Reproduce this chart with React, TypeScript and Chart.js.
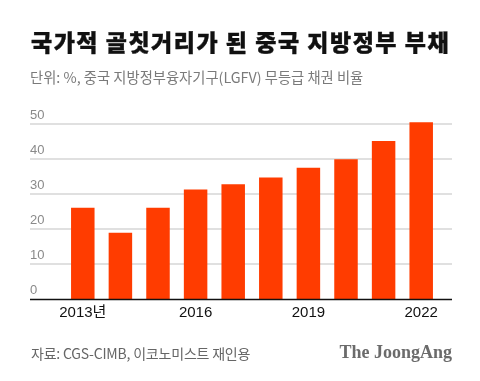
import React, { useEffect, useRef } from "react";
import { Chart, registerables } from "chart.js";

Chart.register(...registerables);

const years = ["2013", "2014", "2015", "2016", "2017", "2018", "2019", "2020", "2021", "2022"];
const xTickLabels = ["2013년", "", "", "2016", "", "", "2019", "", "", "2022"];
const values = [26.0, 18.9, 26.0, 31.2, 32.7, 34.6, 37.4, 39.8, 45.0, 50.4];
const yTicks = [0, 10, 20, 30, 40, 50];

const TITLE = "국가적 골칫거리가 된 중국 지방정부 부채";
const SUBTITLE = "단위: %, 중국 지방정부융자기구(LGFV) 무등급 채권 비율";
const SOURCE = "자료: CGS-CIMB, 이코노미스트 재인용";
const BRAND = "The JoongAng";

const GRID_LEFT = 30;
const GRID_RIGHT = 452;

const gridPlugin = {
  id: "customGrid",
  beforeDatasetsDraw(chart: any) {
    const { ctx, scales } = chart;
    const y = scales.y;
    ctx.save();
    ctx.strokeStyle = "#e0e0e0";
    ctx.lineWidth = 2;
    yTicks.forEach((v) => {
      if (v === 0) return;
      const py = Math.round(y.getPixelForValue(v));
      ctx.beginPath();
      ctx.moveTo(GRID_LEFT, py);
      ctx.lineTo(GRID_RIGHT, py);
      ctx.stroke();
    });
    ctx.fillStyle = "#8a8a8a";
    ctx.font = '13px "Liberation Sans", Arial, sans-serif';
    ctx.textAlign = "left";
    ctx.textBaseline = "alphabetic";
    yTicks.forEach((v) => {
      const py = y.getPixelForValue(v);
      ctx.fillText(String(v), GRID_LEFT, py - 5);
    });
    ctx.restore();
  },
  afterDatasetsDraw(chart: any) {
    const { ctx, scales } = chart;
    const py = Math.round(scales.y.getPixelForValue(0)) + 0.5;
    ctx.save();
    ctx.strokeStyle = "#111";
    ctx.lineWidth = 1.5;
    ctx.beginPath();
    ctx.moveTo(GRID_LEFT, py);
    ctx.lineTo(GRID_RIGHT, py);
    ctx.stroke();
    ctx.restore();
  },
};

export default function App() {
  const canvasRef = useRef<HTMLCanvasElement>(null);

  useEffect(() => {
    document.body.style.margin = "0";
    const chart = new Chart(canvasRef.current!, {
      type: "bar",
      data: {
        labels: years,
        datasets: [
          {
            data: values,
            backgroundColor: "#ff3c00",
            borderWidth: 0,
            categoryPercentage: 1,
            barPercentage: 0.625,
          },
        ],
      },
      options: {
        responsive: false,
        animation: false,
        layout: { padding: { left: 64, right: 40, top: 106, bottom: 54 } },
        plugins: { legend: { display: false }, tooltip: { enabled: false } },
        scales: {
          x: {
            grid: { display: false, drawTicks: false },
            border: { display: false },
            ticks: {
              autoSkip: false,
              maxRotation: 0,
              padding: 5,
              color: "#111",
              font: { size: 15, family: '"Liberation Sans", "Noto Sans CJK KR", Arial, sans-serif' },
              callback: (_v: any, i: number) => xTickLabels[i],
            },
          },
          y: {
            display: false,
            min: 0,
            max: 55,
          },
        },
      },
      plugins: [gridPlugin],
    });
    return () => chart.destroy();
  }, []);

  return (
    <div style={{ position: "absolute", left: 0, top: 0, width: 480, height: 381, background: "#fff", overflow: "hidden" }}>
      <canvas ref={canvasRef} width={480} height={381} style={{ position: "absolute", left: 0, top: 0 }} />
      <div
        style={{
          position: "absolute",
          left: 31,
          top: 25,
          fontFamily: '"Noto Sans CJK KR", sans-serif',
          fontWeight: 900,
          fontSize: 23,
          letterSpacing: 1.5,
          color: "#111",
          whiteSpace: "nowrap",
          lineHeight: "32px",
          WebkitTextStroke: "0.4px #111",
        }}
      >
        {TITLE}
      </div>
      <div
        style={{
          position: "absolute",
          left: 30,
          top: 67,
          fontFamily: '"Noto Sans CJK KR", sans-serif',
          fontSize: 14.3,
          color: "#7a7a7a",
          whiteSpace: "nowrap",
          lineHeight: "20px",
          letterSpacing: 0,
        }}
      >
        {SUBTITLE}
      </div>
      <div
        style={{
          position: "absolute",
          left: 31,
          top: 343,
          fontFamily: '"Noto Sans CJK KR", sans-serif',
          fontSize: 14,
          color: "#666",
          whiteSpace: "nowrap",
          lineHeight: "20px",
          letterSpacing: -0.2,
        }}
      >
        {SOURCE}
      </div>
      <div
        style={{
          position: "absolute",
          right: 28,
          top: 341,
          fontFamily: '"Liberation Serif", "DejaVu Serif", serif',
          fontWeight: 700,
          fontSize: 18,
          color: "#6b6b6b",
          whiteSpace: "nowrap",
          lineHeight: "22px",
        }}
      >
        {BRAND}
      </div>
    </div>
  );
}
